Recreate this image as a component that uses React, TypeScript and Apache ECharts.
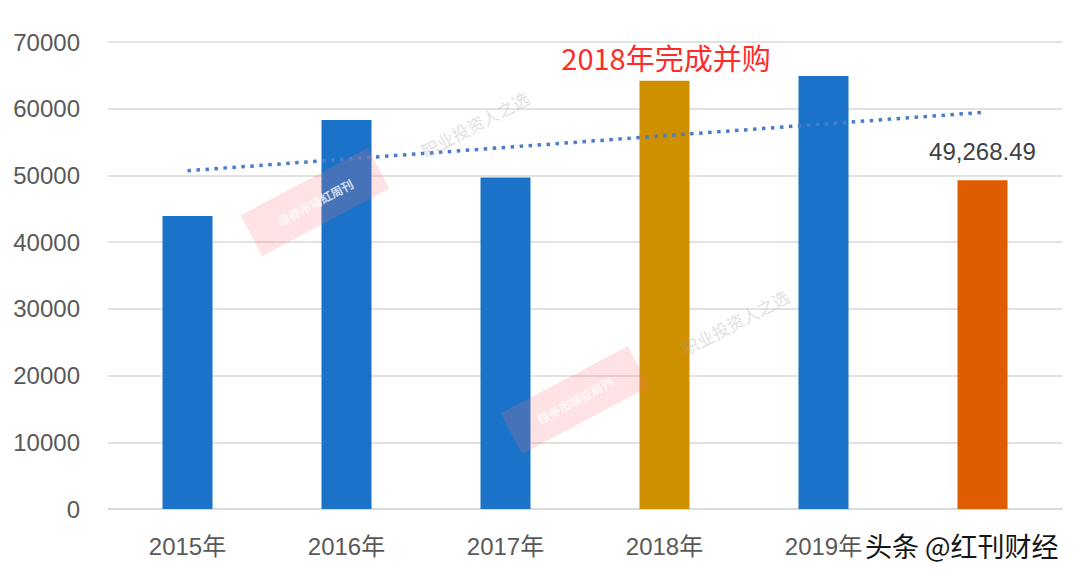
import React, { useEffect, useRef } from "react";
import * as echarts from "echarts";

const categories = ["2015年", "2016年", "2017年", "2018年", "2019年", "2020年"];
const revenue = [43900, 58300, 49700, 64200, 64900, 49268.49];
const barColors = ["#1A73C9", "#1A73C9", "#1A73C9", "#CF9000", "#1A73C9", "#E05C00"];
const labeledIndex = 5;
const hiddenTickLabelIndex = 5;
const trendStart = 50700;
const trendEnd = 59450;
const annotation = "2018年完成并购";
const watermark = "头条 @红刊财经";

const fmt = (v: number) => {
  const [i, d] = v.toFixed(2).split(".");
  return i.replace(/\B(?=(\d{3})+(?!\d))/g, ",") + "." + d;
};

const LATIN = "'Liberation Sans', 'Noto Sans CJK SC', sans-serif";
const CJK = "'Noto Sans CJK SC', sans-serif";

function stamp(cx: number, cy: number, tx: number, ty: number) {
  const rot = (28 * Math.PI) / 180;
  return [
    {
      type: "rect",
      x: cx,
      y: cy,
      rotation: rot,
      z: 100,
      silent: true,
      shape: { x: -72, y: -23, width: 144, height: 46 },
      style: { fill: "rgba(248,110,120,0.20)" },
    },
    {
      type: "text",
      x: cx,
      y: cy,
      rotation: rot,
      z: 101,
      silent: true,
      style: {
        text: "證券市場紅周刊",
        fill: "rgba(255,255,255,0.75)",
        font: `bold 12px ${CJK}`,
        align: "center",
        verticalAlign: "middle",
      },
    },
    {
      type: "text",
      x: tx,
      y: ty,
      rotation: rot,
      z: 101,
      silent: true,
      style: {
        text: "职业投资人之选",
        fill: "rgba(160,160,160,0.35)",
        font: `17px ${CJK}`,
        align: "center",
        verticalAlign: "middle",
      },
    },
  ];
}

export default function App() {
  const ref = useRef<HTMLDivElement>(null);
  useEffect(() => {
    if (!ref.current) return;
    const chart = echarts.init(ref.current, null, { renderer: "svg" });
    chart.setOption({
      animation: false,
      backgroundColor: "#ffffff",
      grid: { left: 108, right: 18, top: 42, bottom: 65, containLabel: false },
      xAxis: {
        type: "category",
        data: categories,
        axisLine: { lineStyle: { color: "#D9D9D9", width: 1.5 } },
        axisTick: { show: false },
        axisLabel: {
          color: "#595959",
          fontSize: 24,
          fontFamily: LATIN,
          margin: 25,
          interval: (idx: number) => idx !== hiddenTickLabelIndex,
        },
      },
      yAxis: {
        type: "value",
        min: 0,
        max: 70000,
        interval: 10000,
        axisLine: { show: false },
        axisTick: { show: false },
        axisLabel: {
          color: "#595959",
          fontSize: 24,
          fontFamily: LATIN,
          margin: 28,
          formatter: (v: number) => String(v),
        },
        splitLine: { lineStyle: { color: "#D9D9D9", width: 1.5 } },
      },
      series: [
        {
          type: "bar",
          barWidth: 50,
          data: revenue.map((v, i) => ({
            value: v,
            itemStyle: { color: barColors[i] },
            label:
              i === labeledIndex
                ? {
                    show: true,
                    position: "top",
                    distance: 17,
                    formatter: (p: any) => fmt(p.value),
                    color: "#404040",
                    fontSize: 24,
                    fontFamily: LATIN,
                  }
                : { show: false },
          })),
          markLine: {
            silent: true,
            symbol: ["none", "none"],
            label: { show: false },
            lineStyle: { color: "#4A7CC9", width: 3.5, type: [3.5, 5.5] },
            data: [[{ coord: [0, trendStart] }, { coord: [5, trendEnd] }]],
          },
        },
      ],
      graphic: [
        {
          type: "text",
          x: 666,
          y: 57,
          z: 50,
          style: {
            text: annotation,
            fill: "#FF2B2B",
            font: `29px ${CJK}`,
            align: "center",
            verticalAlign: "middle",
          },
        },
        ...stamp(315, 202, 475, 124),
        ...stamp(575, 400, 735, 322),
        {
          type: "text",
          x: 865,
          y: 545,
          z: 110,
          style: {
            text: watermark,
            fill: "#151515",
            stroke: "#ffffff",
            lineWidth: 3,
            font: `27px ${CJK}`,
            align: "left",
            verticalAlign: "middle",
          },
        },
      ],
    });
    return () => chart.dispose();
  }, []);
  return (
    <div
      ref={ref}
      style={{ position: "fixed", left: 0, top: 0, width: 1080, height: 574 }}
    />
  );
}
